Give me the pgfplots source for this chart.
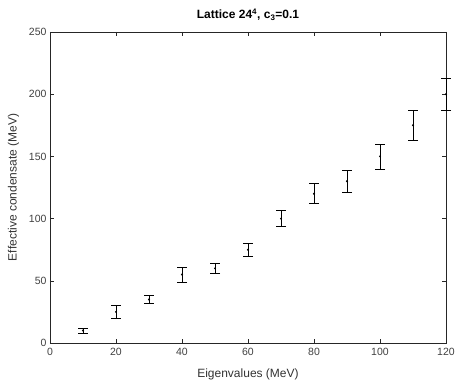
\documentclass[border=0pt]{standalone}
\usepackage{pgfplots}
\pgfplotsset{compat=1.18}
\usepackage{fontspec}
\setmainfont{Liberation Sans}
\usetikzlibrary{calc}
\definecolor{axgray}{gray}{0.15}
\begin{document}
\begin{tikzpicture}
\begin{axis}[
  scale only axis,
  width=396pt, height=311pt,
  xmin=0, xmax=120, ymin=0, ymax=250,
  xtick={0,20,...,120}, ytick={0,50,...,250},
  tick align=inside,
  major tick length=4pt,
  axis line style={axgray, line width=0.5pt},
  every tick/.style={axgray, line width=0.5pt},
  tick label style={font=\fontsize{10.5}{12}\selectfont, text=black!75},
  xticklabel style={yshift=-2pt},
  /pgf/number format/assume math mode=true,
  xlabel={Eigenvalues (MeV)},
  ylabel={Effective condensate (MeV)},
  label style={font=\fontsize{12}{14}\selectfont, text=black!80},
  xlabel style={yshift=-6pt},
  ylabel style={yshift=3pt},
  title={\textbf{Lattice 24\textsuperscript{4}, c\textsubscript{3}=0.1}},
  title style={font=\fontsize{12}{14}\selectfont, yshift=2pt},
  clip=false,
]
\addplot[black, mark=*, mark size=0.8pt, only marks,
  error bars/.cd, y dir=both, y explicit,
  error mark options={rotate=90, mark size=5pt, line width=0.6pt},
  error bar style={line width=0.6pt}]
  table[x=x, y=y, y error=e] {
x y e
10 10 2
20 25 5
30 35 3
40 55 6
50 60 4
60 75 5
70 100 6.5
80 120 8
90 130 9
100 150 10
110 175 12
120 200 13
};
\end{axis}
\pgfresetboundingbox
\path ($(current axis.south west)+(-50pt,-45pt)$) rectangle ($(current axis.north east)+(9pt,32pt)$);
\end{tikzpicture}
\end{document}
